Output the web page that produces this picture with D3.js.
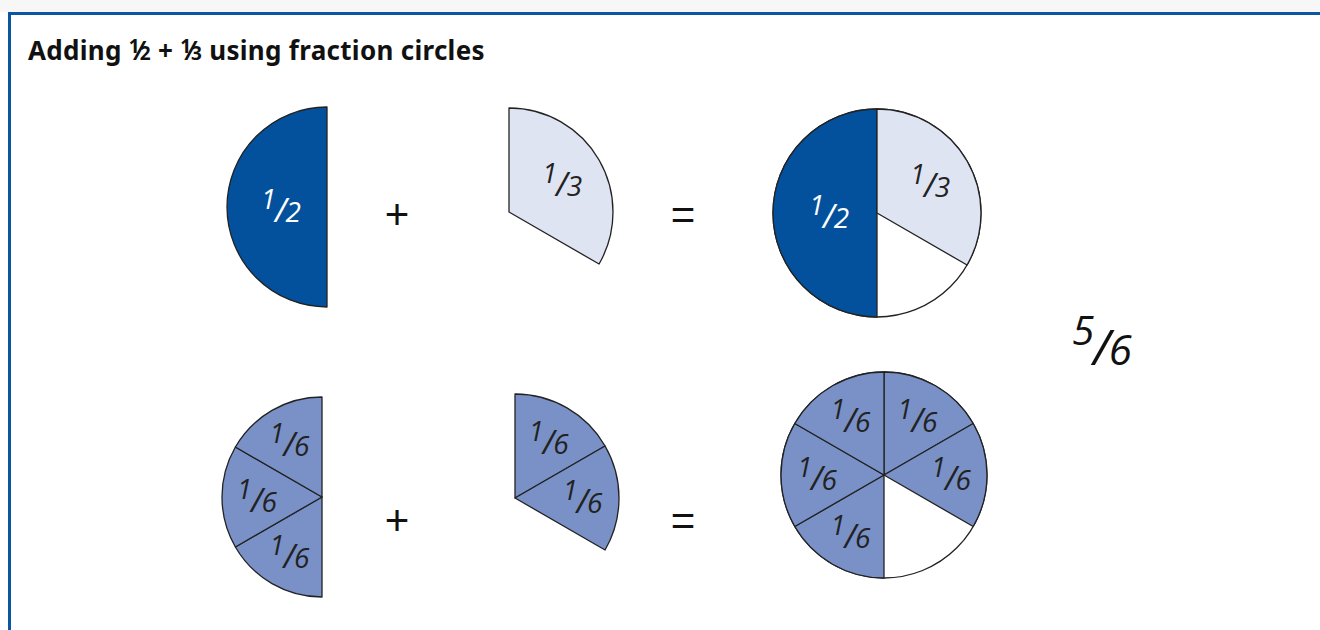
<!DOCTYPE html>
<html>
<head>
<meta charset="utf-8">
<script src="https://cdn.jsdelivr.net/npm/d3@7"></script>
<style>
  body { margin: 0; background: #fff; }
</style>
</head>
<body>
<div id="chart"></div>
<script>

// each piece: numerator, denominator, start position (turns, clockwise from 12 o'clock)
var topHalf = [{num:1, den:2, start:3/6}];
var topThird = [{num:1, den:3, start:0}];
var topSum = [{num:1, den:2, start:3/6}, {num:1, den:3, start:0}];

var sixthsHalf = [{num:1, den:6, start:3/6}, {num:1, den:6, start:4/6}, {num:1, den:6, start:5/6}];
var sixthsThird = [{num:1, den:6, start:0}, {num:1, den:6, start:1/6}];
var sixthsSum = [{num:1, den:6, start:0}, {num:1, den:6, start:1/6},
                 {num:1, den:6, start:3/6}, {num:1, den:6, start:4/6}, {num:1, den:6, start:5/6}];

var operators = ["+", "="];
var result = {num:5, den:6};
// title pieces: plain words and fractions
var titleParts = ["Adding ", {num:1, den:2}, " + ", {num:1, den:3}, " using fraction circles"];

var width = 1320,
    height = 630;

var colors = d3.scaleOrdinal().domain([2, 3, 6]).range(["#03519c", "#dfe4f2", "#7991c7"]);
var textColors = d3.scaleOrdinal().domain([2, 3, 6]).range(["#ffffff", "#222222", "#222222"]);
var labelRadius = d3.scaleOrdinal().domain([2, 3, 6]).range([0.46, 0.59, 0.65]);

var angle = d3.scaleLinear().domain([0, 1]).range([0, Math.PI * 2]);

// where each shape sits on the page
var shapes = [
  {data: topHalf,     x: 327, y: 207, r: 100, whole: false},
  {data: topThird,    x: 509, y: 212, r: 104, whole: false},
  {data: topSum,      x: 877, y: 213, r: 104, whole: true},
  {data: sixthsHalf,  x: 322, y: 497, r: 100, whole: false},
  {data: sixthsThird, x: 515, y: 498, r: 104, whole: false},
  {data: sixthsSum,   x: 884, y: 475, r: 103, whole: true}
];
var opRows = [214, 520];
var opCols = [397, 683];

var svg = d3.select("#chart").append("svg")
  .attr("width", width)
  .attr("height", height);

svg.append("rect")
  .attr("width", width)
  .attr("height", height)
  .attr("fill", "#fff");

svg.append("rect")
  .attr("width", width)
  .attr("height", 12)
  .attr("fill", "#f7f7f7");

// frame
svg.append("path")
  .attr("d", "M9.5," + height + "V13.5H" + width)
  .attr("fill", "none")
  .attr("stroke", "#0b56a0")
  .attr("stroke-width", 3);

var title = svg.append("text")
  .attr("x", 28)
  .attr("y", 60)
  .attr("font-family", "Noto Sans")
  .attr("font-weight", "bold")
  .attr("font-size", "26px")
  .attr("letter-spacing", "0.3px")
  .attr("fill", "#111");

titleParts.forEach(function(p) {
  if (typeof p === "string") {
    title.append("tspan").attr("xml:space", "preserve").style("white-space", "pre").text(p);
  } else {
    title.append("tspan").attr("font-size", "19px").attr("dy", -7).text(p.num);
    title.append("tspan").attr("font-size", "26px").attr("dx", -2).attr("dy", 7).text("\u2044");
    title.append("tspan").attr("font-size", "19px").attr("dx", -2).text(p.den);
  }
});

// fraction written as numerator / larger denominator
function fraction(sel, d, k) {
  sel.attr("text-anchor", "middle")
    .attr("font-family", "Open Sans")
    .attr("font-style", "italic");
  sel.append("tspan")
    .attr("font-size", 27 * k)
    .attr("dy", 2 * k)
    .text(d.num);
  sel.append("tspan")
    .attr("font-size", 33 * k)
    .attr("dx", -1 * k)
    .attr("dy", 13 * k)
    .text("/");
  sel.append("tspan")
    .attr("font-size", 28 * k)
    .attr("dx", -1 * k)
    .text(d.den);
}

shapes.forEach(function(s) {
  var g = svg.append("g")
    .attr("transform", "translate(" + s.x + "," + s.y + ")");

  var arc = d3.arc()
    .innerRadius(0)
    .outerRadius(s.r)
    .startAngle(d => angle(d.start))
    .endAngle(d => angle(d.start + d.num / d.den));

  if (s.whole) {
    g.append("circle")
      .attr("r", s.r)
      .attr("fill", "#fff")
      .attr("stroke", "#222")
      .attr("stroke-width", 1.3);
  }

  g.selectAll("path")
    .data(s.data)
    .enter().append("path")
    .attr("d", arc)
    .attr("fill", d => colors(d.den))
    .attr("stroke", "#222")
    .attr("stroke-width", 1.3)
    .attr("stroke-linejoin", "round");

  g.selectAll("text")
    .data(s.data)
    .enter().append("text")
    .attr("x", d => Math.sin(angle(d.start + d.num / d.den / 2)) * s.r * labelRadius(d.den))
    .attr("y", d => -Math.cos(angle(d.start + d.num / d.den / 2)) * s.r * labelRadius(d.den))
    .attr("fill", d => textColors(d.den))
    .each(function(d) { fraction(d3.select(this), d, 1); });
});

opRows.forEach(function(y) {
  svg.selectAll(null)
    .data(operators)
    .enter().append("text")
    .attr("x", (d, i) => opCols[i])
    .attr("y", y + 15)
    .attr("text-anchor", "middle")
    .attr("font-family", "Liberation Sans")
    .attr("font-size", "42px")
    .attr("fill", "#111")
    .text(d => d);
});

svg.append("text")
  .attr("x", 1102)
  .attr("y", 342)
  .attr("fill", "#111")
  .each(function() { fraction(d3.select(this), result, 1.5); });

</script>
</body>
</html>
